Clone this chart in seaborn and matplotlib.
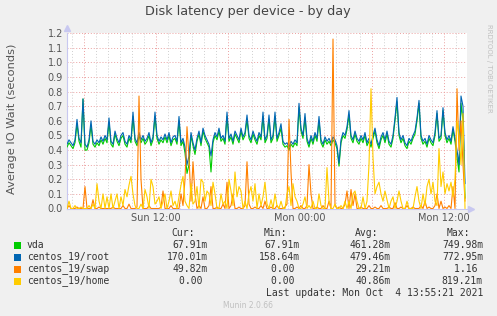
import numpy as np
import pandas as pd
import matplotlib
matplotlib.use("Agg")
import matplotlib.pyplot as plt
from matplotlib.patches import Rectangle
import seaborn as sns

# ---------------- data (seconds), one sample every 10 minutes ----------------
series_names = ["vda", "centos_19/root", "centos_19/swap", "centos_19/home"]
series_colors = ["#00CC00", "#0066B3", "#FF8000", "#FFCC00"]

vda = [
    0.42,0.45,0.43,0.41,0.45,0.58,0.46,0.42,0.75,0.40,
    0.40,0.45,0.57,0.44,0.42,0.45,0.43,0.47,0.44,0.48,
    0.45,0.59,0.44,0.42,0.51,0.46,0.43,0.48,0.50,0.44,
    0.42,0.48,0.45,0.63,0.46,0.43,0.50,0.45,0.48,0.44,
    0.46,0.50,0.43,0.47,0.63,0.48,0.44,0.47,0.45,0.49,
    0.45,0.50,0.43,0.47,0.48,0.44,0.60,0.43,0.46,0.38,
    0.24,0.30,0.50,0.43,0.37,0.46,0.51,0.43,0.53,0.48,
    0.45,0.42,0.25,0.45,0.50,0.47,0.53,0.46,0.48,0.44,
    0.63,0.46,0.49,0.44,0.51,0.48,0.45,0.53,0.47,0.50,
    0.61,0.48,0.45,0.51,0.47,0.44,0.50,0.47,0.63,0.45,
    0.48,0.61,0.45,0.48,0.63,0.46,0.50,0.55,0.44,0.42,
    0.43,0.40,0.44,0.42,0.45,0.43,0.69,0.53,0.48,0.62,
    0.46,0.42,0.48,0.44,0.50,0.46,0.60,0.45,0.42,0.47,
    0.44,0.46,0.43,0.47,0.45,0.41,0.29,0.45,0.50,0.48,
    0.54,0.64,0.48,0.45,0.51,0.46,0.44,0.48,0.45,0.50,
    0.43,0.46,0.42,0.48,0.53,0.45,0.41,0.47,0.50,0.45,
    0.51,0.44,0.42,0.48,0.60,0.73,0.50,0.45,0.48,0.43,
    0.41,0.46,0.44,0.48,0.51,0.60,0.72,0.48,0.44,0.46,
    0.42,0.48,0.45,0.43,0.50,0.65,0.46,0.48,0.67,0.50,
    0.45,0.48,0.44,0.54,0.46,0.35,0.25,0.72,0.60,0.07,
]

root = [
    0.44,0.47,0.45,0.43,0.47,0.61,0.48,0.45,0.75,0.44,
    0.42,0.47,0.60,0.46,0.44,0.47,0.45,0.49,0.46,0.50,
    0.47,0.62,0.46,0.44,0.53,0.48,0.45,0.50,0.52,0.46,
    0.44,0.50,0.47,0.66,0.48,0.45,0.52,0.47,0.50,0.46,
    0.48,0.52,0.45,0.49,0.66,0.50,0.46,0.49,0.47,0.51,
    0.47,0.52,0.45,0.49,0.50,0.46,0.63,0.45,0.48,0.42,
    0.30,0.36,0.52,0.45,0.40,0.48,0.53,0.45,0.55,0.50,
    0.47,0.44,0.36,0.47,0.52,0.49,0.55,0.48,0.50,0.46,
    0.66,0.48,0.51,0.46,0.53,0.50,0.47,0.55,0.49,0.52,
    0.64,0.50,0.47,0.53,0.49,0.46,0.52,0.49,0.66,0.47,
    0.50,0.64,0.47,0.50,0.66,0.48,0.52,0.58,0.46,0.44,
    0.45,0.42,0.46,0.44,0.47,0.45,0.72,0.55,0.50,0.65,
    0.48,0.44,0.50,0.46,0.52,0.48,0.63,0.47,0.44,0.49,
    0.46,0.48,0.45,0.49,0.47,0.43,0.31,0.47,0.52,0.50,
    0.56,0.67,0.50,0.47,0.53,0.48,0.46,0.50,0.47,0.52,
    0.45,0.48,0.44,0.50,0.55,0.47,0.43,0.49,0.52,0.47,
    0.53,0.46,0.44,0.50,0.62,0.76,0.52,0.47,0.50,0.45,
    0.43,0.48,0.46,0.50,0.53,0.62,0.74,0.50,0.46,0.48,
    0.44,0.50,0.47,0.45,0.52,0.67,0.48,0.50,0.69,0.52,
    0.47,0.50,0.46,0.56,0.48,0.40,0.30,0.77,0.70,0.17,
]

swap = [
    0,0.02,0,0,0,0.01,0,0,0,0.15,
    0,0,0,0.06,0,0,0.01,0,0,0,
    0,0,0,0.01,0,0,0,0,0.02,0,
    0,0.03,0,0,0,0.01,0.77,0.20,0,0,
    0,0.02,0,0,0,0,0,0.01,0.12,0,
    0,0,0.02,0,0,0,0,0.10,0.02,0.20,
    0.56,0.35,0.05,0.32,0.10,0,0.02,0,0.08,0,
    0,0.02,0.15,0,0,0.01,0,0,0.03,0,
    0.18,0,0.02,0.10,0,0,0.01,0,0,0.02,
    0.32,0.03,0,0,0.01,0,0,0.02,0,0.05,
    0,0,0.01,0,0,0.02,0,0,0,0.01,
    0.03,0.61,0.25,0,0,0.01,0,0.02,0,0,
    0.02,0.30,0.10,0,0,0.01,0,0,0.02,0,
    0,0.05,0,1.16,0.02,0,0.01,0,0,0.03,
    0.12,0,0.13,0.02,0.10,0,0,0.01,0,0,
    0,0.02,0,0,0.01,0,0,0.02,0,0,
    0,0.01,0,0,0.04,0,0,0.01,0,0,
    0.02,0,0,0.01,0,0,0,0.02,0,0.05,
    0,0.01,0,0,0.02,0.10,0,0.05,0,0.01,
    0,0.02,0,0.15,0,0.82,0.40,0.60,0.30,0.05,
]

home = [
    0,0.05,0,0,0.02,0,0,0.01,0,0,
    0,0.02,0,0.03,0,0.17,0.05,0,0.10,0,
    0.08,0,0.10,0,0.05,0.10,0,0.08,0.02,0.13,
    0.08,0.16,0.22,0.10,0.02,0,0,0.03,0,0.13,
    0.08,0,0.20,0.15,0.03,0.05,0.08,0,0.05,0.10,
    0,0.05,0.12,0.02,0.05,0,0.08,0.16,0.22,0.05,
    0.02,0,0.17,0.03,0.05,0.15,0,0.20,0.18,0.05,
    0.12,0.10,0.02,0.18,0.10,0,0,0.10,0.03,0.05,
    0,0.20,0.12,0.02,0.25,0.08,0.15,0.12,0,0.05,
    0,0.10,0.15,0.05,0.17,0,0.10,0.02,0.08,0.18,
    0.03,0,0.06,0,0.10,0.02,0,0.05,0,0,
    0.10,0.15,0.02,0.17,0.08,0.05,0,0,0.03,0.08,
    0,0.02,0,0.05,0,0,0.10,0.02,0,0,
    0.28,0.05,0,0,0.03,0,0,0.02,0,0.05,
    0,0.05,0,0.10,0.12,0.05,0,0,0.08,0,
    0.05,0.30,0.82,0.35,0.10,0.15,0.18,0.10,0.05,0.12,
    0.06,0,0.05,0.08,0,0.05,0.12,0.05,0,0,
    0.05,0,0,0,0.08,0.15,0.05,0,0.10,0.02,
    0.15,0.20,0.10,0.18,0.05,0.02,0.41,0.15,0.25,0.10,
    0.17,0.12,0.18,0.08,0.20,0.60,0.50,0.30,0.65,0.00,
]

# legend table values
cur_vals = ["67.91m", "170.01m", "49.82m", "0.00 "]
min_vals = ["67.91m", "158.64m", "0.00 ", "0.00 "]
avg_vals = ["461.28m", "479.46m", "29.21m", "40.86m"]
max_vals = ["749.98m", "772.95m", "1.16 ", "819.21m"]

y_ticks = [0.0, 0.1, 0.2, 0.3, 0.4, 0.5, 0.6, 0.7, 0.8, 0.9, 1.0, 1.1, 1.2]
x_tick_hours = [12, 24, 36]
x_tick_labels = ["Sun 12:00", "Mon 00:00", "Mon 12:00"]

title = "Disk latency per device - by day"
ylabel = "Average IO Wait (seconds)"
last_update = "Last update: Mon Oct  4 13:55:21 2021"

# ---------------- build frame ----------------
start_h = 4 + 35 / 60.0          # Sun 04:35 (hours since Sun 00:00)
span_h = 400 * 5 / 60.0          # 400 samples of 5 minutes
n = len(root)
hours = start_h + np.arange(n) * (10 / 60.0)

frames = []
for name, vals in zip(series_names, [vda, root, swap, home]):
    frames.append(pd.DataFrame({"t": hours, "v": vals, "dev": name}))
df = pd.concat(frames, ignore_index=True)

# ---------------- figure ----------------
sns.set_theme(style="white")
plt.rcParams["font.family"] = ["DejaVu Sans"]

W, H = 497, 316
fig = plt.figure(figsize=(W / 100, H / 100), dpi=100, facecolor="#F0F0F0")
ax = fig.add_axes([67 / W, (H - 208.5) / H, 400 / W, 175.3 / H])
ax.set_facecolor("white")

# grid
for hgt in np.arange(start_h // 1 + 1, start_h + span_h, 1.0):
    if hgt % 6 == 0:
        ax.axvline(hgt, color="#eba0a0", lw=0.7, ls=(0, (1, 2)), zorder=1)
    else:
        ax.axvline(hgt, color="#cfcfcf", lw=0.7, ls=(0, (1, 2)), zorder=1)
for yv in y_ticks[1:]:
    ax.axhline(yv, color="#eba0a0", lw=0.7, ls=(0, (1, 2)), zorder=1)

sns.lineplot(data=df, x="t", y="v", hue="dev", hue_order=series_names,
             palette=series_colors, estimator=None, sort=False,
             linewidth=0.8, legend=False, ax=ax, zorder=3)

ax.set_xlim(start_h, start_h + span_h)
ax.set_ylim(0, 1.2)
ax.set_yticks(y_ticks)
ax.set_yticklabels([f"{v:.1f}" for v in y_ticks])
ax.set_xticks(x_tick_hours)
ax.set_xticklabels(x_tick_labels)
ax.tick_params(axis="both", length=0, labelsize=7, labelcolor="#555555", pad=3)
ax.set_xlabel("")
ax.set_ylabel("")
for s in ["top", "right"]:
    ax.spines[s].set_visible(False)
for s in ["left", "bottom"]:
    ax.spines[s].set_color("#c8c8f0")
    ax.spines[s].set_linewidth(0.8)
# arrows at axis ends
ax.plot([0], [1.03], marker="^", ms=4, color="#c8c8f0", transform=ax.transAxes, clip_on=False)
ax.plot([1.01], [0], marker=">", ms=4, color="#c8c8f0", transform=ax.transAxes, clip_on=False)

# texts
fig.text(248 / W, 1 - 12 / H, title, ha="center", va="center", fontsize=9.2, color="#444444")
fig.text(12 / W, 1 - 119 / H, ylabel, ha="center", va="center", rotation=90, fontsize=8.2, color="#555555")
fig.text(489 / W, 1 - 24 / H, "RRDTOOL / TOBI OETIKER", ha="center", va="top", rotation=270,
         fontsize=5, color="#c0c0c0")

mono = "DejaVu Sans Mono"
fs = 7
txtc = "#333333"
hdr_y = 1 - 233 / H
fig.text(195 / W, hdr_y, "Cur:", ha="right", va="center", family=mono, fontsize=fs, color=txtc)
fig.text(287 / W, hdr_y, "Min:", ha="right", va="center", family=mono, fontsize=fs, color=txtc)
fig.text(378 / W, hdr_y, "Avg:", ha="right", va="center", family=mono, fontsize=fs, color=txtc)
fig.text(470 / W, hdr_y, "Max:", ha="right", va="center", family=mono, fontsize=fs, color=txtc)
row_ys = [245, 257, 269, 281]
for k in range(4):
    yy = 1 - row_ys[k] / H
    fig.patches.append(Rectangle((14 / W, yy - 3.5 / H), 7 / W, 7 / H, transform=fig.transFigure,
                                 facecolor=series_colors[k], edgecolor="none"))
    fig.text(27 / W, yy, series_names[k], ha="left", va="center", family=mono, fontsize=fs, color=txtc)
    fig.text(208 / W, yy, cur_vals[k], ha="right", va="center", family=mono, fontsize=fs, color=txtc)
    fig.text(300 / W, yy, min_vals[k], ha="right", va="center", family=mono, fontsize=fs, color=txtc)
    fig.text(391 / W, yy, avg_vals[k], ha="right", va="center", family=mono, fontsize=fs, color=txtc)
    fig.text(483 / W, yy, max_vals[k], ha="right", va="center", family=mono, fontsize=fs, color=txtc)
fig.text(483 / W, 1 - 293 / H, last_update, ha="right", va="center", family=mono, fontsize=fs, color=txtc)
fig.text(248 / W, 1 - 305 / H, "Munin 2.0.66", ha="center", va="center", fontsize=5.5, color="#c0c0c0")

fig.savefig("out.png", dpi=100, facecolor=fig.get_facecolor())
